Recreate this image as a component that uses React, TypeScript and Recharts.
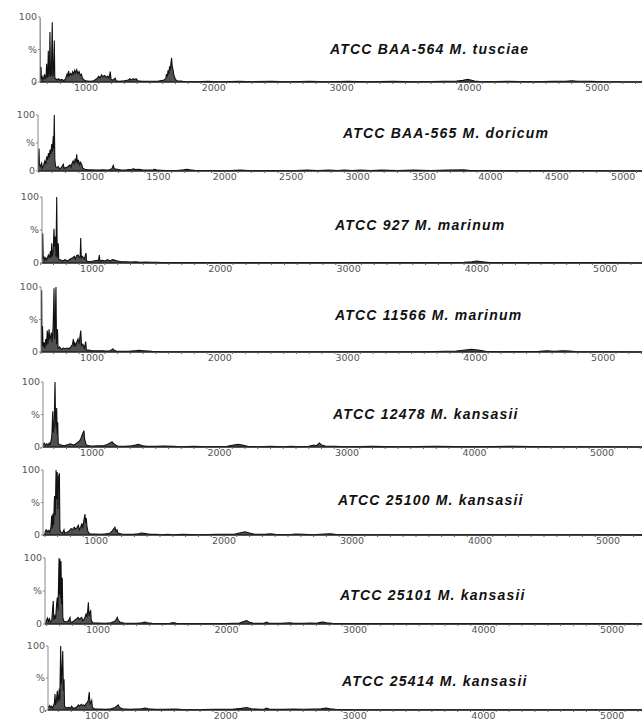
import { AreaChart, Area, XAxis, YAxis } from "recharts";

// m/z , relative intensity (%)
const spectrumBAA564: [number, number][] = [
  [630, 0], [636, 3], [638, 98], [641, 4], [645, 10], [648, 23], [651, 5], [657, 8], [662, 3], [668, 6],
  [676, 12], [681, 4], [688, 10], [692, 28], [696, 6], [701, 14], [705, 48], [709, 8], [714, 20], [718, 77],
  [722, 10], [729, 12], [736, 92], [740, 8], [746, 15], [752, 64], [756, 6], [764, 5], [772, 3], [784, 5],
  [796, 3], [812, 4], [826, 2], [840, 5], [852, 12], [858, 8], [864, 17], [870, 10], [880, 13], [888, 11],
  [896, 16], [904, 12], [912, 18], [920, 14], [928, 19], [936, 13], [946, 16], [955, 10], [964, 12], [972, 6],
  [985, 3], [1000, 2], [1030, 1], [1060, 2], [1085, 5], [1100, 9], [1110, 6], [1122, 11], [1132, 8], [1145, 10],
  [1158, 7], [1170, 9], [1180, 6], [1190, 16], [1196, 4], [1210, 3], [1228, 6], [1236, 2], [1260, 1], [1300, 2],
  [1330, 3], [1345, 5], [1356, 3], [1368, 5], [1380, 4], [1392, 5], [1405, 2], [1440, 1], [1500, 1], [1560, 1],
  [1610, 3], [1625, 6], [1630, 12], [1636, 8], [1642, 18], [1648, 12], [1654, 24], [1660, 18], [1665, 30], [1670, 37],
  [1674, 25], [1680, 20], [1686, 12], [1692, 8], [1700, 4], [1710, 2], [1760, 1], [1850, 0.5], [1950, 1], [2050, 0.5],
  [2200, 1], [2300, 0.5], [2450, 1], [2600, 0.5], [2750, 1], [2900, 0.5], [3050, 1], [3200, 0.5], [3400, 1], [3600, 0.5],
  [3800, 1], [3900, 1.5], [3950, 2.5], [3985, 4], [4010, 3], [4040, 1.5], [4100, 0.5], [4300, 1], [4500, 0.5], [4650, 1],
  [4750, 1], [4800, 2], [4850, 1.2], [4950, 1], [5050, 0.5], [5400, 0],
];

const spectrumBAA565: [number, number][] = [
  [590, 0], [596, 10], [601, 40], [604, 12], [610, 8], [621, 14], [626, 5], [635, 10], [645, 18], [652, 12],
  [659, 26], [666, 20], [672, 32], [678, 24], [684, 38], [690, 30], [697, 48], [702, 35], [708, 62], [712, 40],
  [716, 100], [720, 20], [726, 8], [735, 6], [746, 8], [755, 4], [770, 6], [784, 12], [790, 5], [805, 6],
  [820, 8], [834, 11], [842, 7], [850, 14], [858, 18], [866, 12], [874, 22], [880, 16], [885, 30], [890, 14],
  [898, 20], [905, 10], [912, 16], [922, 12], [930, 5], [947, 3], [970, 2], [1000, 2], [1040, 1.5], [1080, 2],
  [1120, 1.5], [1150, 4], [1160, 10], [1168, 4], [1190, 3], [1220, 1.5], [1260, 2], [1300, 3], [1311, 4], [1330, 2.5],
  [1350, 3], [1380, 2], [1420, 1.5], [1460, 2], [1474, 3], [1490, 1.5], [1550, 1], [1640, 1], [1690, 2], [1713, 3],
  [1740, 2], [1780, 1], [1900, 1], [2000, 0.5], [2120, 1.5], [2200, 0.5], [2350, 1], [2500, 0.5], [2620, 1.5], [2700, 1],
  [2780, 1.8], [2850, 1], [2900, 1.8], [2960, 1], [3020, 1.8], [3100, 1], [3180, 1.5], [3300, 1], [3420, 1.5], [3550, 1],
  [3680, 1.5], [3800, 2], [3850, 1], [3950, 1], [4100, 0.5], [4300, 1], [4500, 0.5], [4700, 1], [4900, 0.5], [5200, 0],
];

const spectrum927: [number, number][] = [
  [600, 0], [610, 5], [616, 45], [620, 6], [625, 10], [632, 4], [640, 8], [648, 5], [660, 12], [668, 7],
  [676, 18], [681, 8], [686, 30], [690, 10], [698, 20], [704, 52], [708, 25], [714, 40], [719, 10], [725, 100],
  [729, 8], [737, 30], [741, 5], [755, 5], [770, 3], [790, 5], [810, 3], [830, 6], [850, 8], [862, 10],
  [870, 6], [880, 11], [892, 12], [900, 8], [908, 10], [912, 38], [916, 8], [925, 10], [940, 6], [953, 15],
  [958, 3], [980, 2], [1010, 3], [1040, 4], [1050, 3], [1057, 12], [1062, 3], [1080, 4], [1100, 3], [1120, 5],
  [1140, 3], [1160, 5], [1180, 4], [1200, 3], [1230, 2], [1270, 2], [1300, 1.5], [1340, 2], [1380, 1], [1420, 1.5],
  [1460, 1], [1500, 1], [1550, 0.5], [1700, 0.5], [2000, 0.5], [2300, 0.5], [2600, 0.5], [3000, 0.5], [3400, 0.5], [3800, 0.5],
  [3900, 1], [3960, 2], [4000, 3], [4040, 2], [4100, 0.5], [4500, 0.5], [5000, 0.5], [5350, 0],
];

const spectrum11566: [number, number][] = [
  [600, 0], [603, 20], [606, 95], [609, 10], [613, 40], [617, 8], [624, 15], [630, 6], [638, 20], [644, 10],
  [650, 33], [656, 12], [664, 35], [670, 20], [676, 22], [682, 30], [688, 15], [696, 40], [703, 98], [707, 20],
  [712, 40], [718, 100], [722, 12], [730, 35], [734, 6], [745, 8], [760, 4], [775, 6], [790, 5], [805, 6],
  [820, 5], [835, 8], [848, 12], [854, 20], [860, 8], [866, 14], [874, 10], [882, 16], [890, 20], [898, 12],
  [905, 22], [912, 33], [918, 10], [928, 12], [940, 6], [951, 16], [956, 3], [975, 3], [1000, 2], [1040, 2],
  [1080, 2], [1110, 1.5], [1140, 2], [1158, 4], [1164, 5], [1170, 3], [1190, 1.5], [1230, 1], [1300, 1.5], [1340, 2],
  [1370, 2.5], [1400, 2], [1440, 1.5], [1470, 1], [1550, 0.5], [1700, 0.5], [2000, 0.5], [2400, 0.5], [2800, 0.5], [3200, 0.5],
  [3600, 0.5], [3850, 1.5], [3920, 3], [3970, 4], [4020, 3], [4080, 1], [4200, 0.5], [4500, 1], [4560, 2], [4620, 1],
  [4680, 2], [4740, 1.5], [4800, 0.5], [5100, 0.5], [5350, 0],
];

const spectrum12478: [number, number][] = [
  [610, 0], [616, 4], [625, 6], [634, 3], [645, 5], [656, 3], [665, 6], [672, 4], [680, 10], [686, 20],
  [692, 55], [696, 22], [702, 30], [706, 60], [710, 100], [714, 40], [718, 30], [723, 60], [727, 20], [731, 38],
  [735, 5], [745, 4], [760, 3], [780, 2], [800, 3], [830, 5], [845, 4], [860, 3], [880, 6], [895, 8],
  [905, 10], [914, 14], [922, 18], [930, 22], [937, 25], [942, 12], [948, 8], [955, 3], [980, 2], [1010, 1.5],
  [1050, 2], [1090, 2], [1120, 4], [1140, 6], [1157, 8], [1170, 5], [1185, 3], [1200, 1.5], [1260, 1], [1310, 2],
  [1340, 3], [1361, 4], [1380, 3], [1400, 2], [1430, 1], [1500, 1], [1560, 1.5], [1640, 1], [1700, 0.5], [1800, 1],
  [1900, 0.5], [2060, 1], [2110, 3], [2145, 4], [2180, 3], [2220, 1], [2300, 0.5], [2400, 1], [2500, 0.5], [2560, 1],
  [2640, 0.5], [2700, 1], [2740, 3], [2760, 2], [2784, 6], [2800, 3], [2830, 1.5], [2900, 1], [3000, 0.5], [3200, 1],
  [3400, 0.5], [3700, 1], [4000, 0.5], [4300, 1], [4600, 0.5], [5000, 0.5], [5350, 0],
];

const spectrum25100: [number, number][] = [
  [600, 0], [604, 6], [612, 8], [620, 5], [630, 7], [640, 4], [648, 12], [654, 30], [658, 10], [664, 33],
  [668, 15], [676, 60], [682, 30], [688, 100], [692, 55], [697, 97], [702, 40], [708, 90], [714, 95], [718, 8],
  [725, 4], [738, 3], [750, 8], [755, 3], [770, 4], [790, 6], [805, 10], [815, 8], [830, 12], [840, 9],
  [850, 11], [862, 15], [870, 8], [880, 12], [890, 18], [896, 10], [905, 22], [914, 32], [919, 18], [924, 26],
  [930, 12], [938, 5], [950, 2], [990, 1.5], [1040, 1], [1080, 2], [1110, 3], [1125, 6], [1140, 10], [1148, 12],
  [1156, 6], [1164, 8], [1172, 3], [1200, 1.5], [1250, 1], [1300, 1.5], [1330, 2], [1355, 3], [1375, 2.5], [1395, 2],
  [1420, 1], [1470, 1], [1520, 0.5], [1560, 1], [1600, 0.5], [1680, 1], [1800, 0.5], [1950, 1], [2080, 1], [2120, 3],
  [2164, 5], [2200, 3], [2240, 1], [2320, 1], [2360, 2], [2400, 1], [2500, 0.5], [2560, 1.5], [2620, 1], [2700, 0.5],
  [2780, 1.5], [2830, 2], [2870, 1], [3000, 0.5], [3300, 0.5], [3700, 0.5], [4100, 0.5], [4500, 0.5], [5000, 0.5], [5350, 0],
];

const spectrum25101: [number, number][] = [
  [590, 0], [600, 6], [607, 9], [615, 4], [622, 8], [630, 3], [640, 5], [652, 35], [656, 6], [664, 12],
  [670, 8], [678, 30], [683, 40], [688, 20], [693, 60], [697, 100], [700, 45], [704, 98], [708, 40], [712, 95],
  [716, 30], [722, 70], [726, 10], [735, 4], [755, 3], [770, 5], [782, 10], [786, 3], [800, 3], [815, 5],
  [834, 8], [845, 10], [855, 7], [865, 9], [873, 10], [880, 5], [895, 8], [907, 15], [914, 10], [920, 20],
  [925, 33], [930, 12], [937, 18], [943, 20], [948, 5], [960, 2], [1000, 1.5], [1060, 1], [1100, 2], [1130, 4],
  [1142, 7], [1150, 10], [1158, 6], [1170, 3], [1200, 1.5], [1250, 1], [1300, 1], [1340, 2], [1366, 3], [1385, 2],
  [1420, 1], [1500, 0.5], [1560, 1], [1586, 2], [1610, 1], [1700, 0.5], [1850, 0.5], [2000, 0.5], [2100, 1.5], [2140, 4],
  [2157, 5], [2175, 3], [2210, 1], [2290, 1], [2313, 3], [2330, 1], [2420, 1], [2494, 2], [2520, 1], [2600, 1],
  [2650, 1.5], [2700, 1], [2730, 2.5], [2753, 3], [2780, 2], [2820, 1], [2900, 0.5], [3200, 0.5], [3600, 0.5], [4000, 0.5],
  [4500, 0.5], [5000, 0.5], [5350, 0],
];

const spectrum25414: [number, number][] = [
  [620, 0], [624, 5], [632, 7], [640, 4], [648, 6], [656, 3], [664, 8], [670, 12], [674, 25], [678, 8],
  [685, 15], [692, 30], [696, 12], [702, 20], [707, 33], [711, 15], [718, 100], [722, 40], [728, 60], [734, 92],
  [739, 30], [744, 48], [748, 6], [760, 3], [780, 4], [795, 3], [804, 6], [810, 3], [830, 3], [845, 5],
  [855, 8], [866, 6], [878, 9], [888, 7], [898, 8], [907, 6], [915, 10], [925, 12], [932, 15], [940, 28],
  [945, 10], [952, 12], [959, 15], [964, 4], [980, 2], [1020, 1.5], [1070, 1], [1110, 2], [1140, 4], [1152, 6],
  [1165, 8], [1175, 4], [1200, 2], [1250, 1], [1300, 1.5], [1345, 2], [1373, 3], [1400, 2], [1450, 1], [1520, 1],
  [1600, 1.5], [1650, 1], [1750, 0.5], [1900, 1], [2050, 1], [2120, 2.5], [2162, 4], [2200, 2], [2260, 1], [2300, 1.5],
  [2318, 3], [2340, 1], [2450, 1], [2520, 1.5], [2600, 1], [2680, 1.5], [2740, 2], [2780, 3], [2810, 2], [2850, 1],
  [3000, 0.5], [3400, 0.5], [3800, 0.5], [4200, 0.5], [4600, 0.5], [5000, 0.5], [5350, 0],
];

const strainTitles = [
  "ATCC BAA-564 M. tusciae",
  "ATCC BAA-565 M. doricum",
  "ATCC 927 M. marinum",
  "ATCC 11566 M. marinum",
  "ATCC 12478 M. kansasii",
  "ATCC 25100 M. kansasii",
  "ATCC 25101 M. kansasii",
  "ATCC 25414 M. kansasii",
];

const thousandTicks = [1000, 2000, 3000, 4000, 5000];
const halfThousandTicks = [1000, 1500, 2000, 2500, 3000, 3500, 4000, 4500, 5000];

const spectra = [
  spectrumBAA564, spectrumBAA565, spectrum927, spectrum11566,
  spectrum12478, spectrum25100, spectrum25101, spectrum25414,
];

// where each scanned panel sits on the page (the scan is a little skewed)
const panels = [
  { y100: 17, y0: 82, axisX: 40, x1000: 86, scale: 0.1278, labels: thousandTicks, titleX: 330, titleY: 49 },
  { y100: 115, y0: 171, axisX: 38, x1000: 92, scale: 0.1328, labels: halfThousandTicks, titleX: 343, titleY: 133 },
  { y100: 197, y0: 263, axisX: 42, x1000: 92, scale: 0.1283, labels: thousandTicks, titleX: 335, titleY: 225 },
  { y100: 287, y0: 352, axisX: 41, x1000: 92, scale: 0.1278, labels: thousandTicks, titleX: 335, titleY: 315 },
  { y100: 382, y0: 447, axisX: 43, x1000: 92, scale: 0.1275, labels: thousandTicks, titleX: 333, titleY: 414 },
  { y100: 470, y0: 535, axisX: 43, x1000: 96, scale: 0.128, labels: thousandTicks, titleX: 338, titleY: 500 },
  { y100: 558, y0: 624, axisX: 45, x1000: 98, scale: 0.1285, labels: thousandTicks, titleX: 340, titleY: 595 },
  { y100: 646, y0: 710, axisX: 48, x1000: 97, scale: 0.1288, labels: thousandTicks, titleX: 342, titleY: 681 },
];

const CHART_W = 700;
const TOP_PAD = 6;
const AXIS_H = 16;
const minorTicks = Array.from({ length: 48 }, (_, i) => 600 + i * 100);

function Spectrum({ idx }: { idx: number }) {
  const p = panels[idx];
  const data = spectra[idx].map(([mz, v]) => ({ mz, v }));
  const dmin = 1000 - (p.x1000 - p.axisX) / p.scale;
  const dmax = dmin + (CHART_W - p.axisX) / p.scale;
  const ticks = [...new Set([...minorTicks, ...p.labels])].sort((a, b) => a - b);
  const plotH = p.y0 - p.y100;

  return (
    <div style={{ position: "absolute", left: 0, top: p.y100 - TOP_PAD }}>
      <AreaChart
        width={CHART_W}
        height={TOP_PAD + plotH + AXIS_H}
        data={data}
        margin={{ top: TOP_PAD, right: 0, bottom: 0, left: 0 }}
      >
        <XAxis
          dataKey="mz"
          type="number"
          domain={[dmin, dmax]}
          allowDataOverflow
          ticks={ticks}
          interval={0}
          tickFormatter={(v: number) => (p.labels.includes(v) ? String(v) : "")}
          height={AXIS_H}
          tickSize={2}
          tickMargin={0}
          axisLine={{ stroke: "#222", strokeWidth: 1.3 }}
          tickLine={{ stroke: "#666" }}
          tick={{ fill: "#555", fontSize: 9.5, fontFamily: "DejaVu Sans" }}
        />
        <YAxis
          type="number"
          domain={[0, 100]}
          ticks={[0, 50, 100]}
          interval={0}
          tickFormatter={(v: number) => (v === 50 ? "%" : String(v))}
          width={p.axisX}
          tickSize={2}
          tickMargin={1}
          axisLine={{ stroke: "#888" }}
          tickLine={{ stroke: "#888" }}
          tick={{ fill: "#555", fontSize: 9.5, fontFamily: "DejaVu Sans" }}
        />
        <Area
          type="linear"
          dataKey="v"
          stroke="#111"
          strokeWidth={1.1}
          fill="#333"
          fillOpacity={0.85}
          dot={false}
          isAnimationActive={false}
        />
      </AreaChart>
      <div
        style={{
          position: "absolute",
          left: p.titleX,
          top: p.titleY - p.y100 + TOP_PAD - 9,
          fontFamily: "Liberation Sans",
          fontWeight: "bold",
          fontStyle: "italic",
          fontSize: 14,
          letterSpacing: 1.2,
          color: "#111",
          whiteSpace: "nowrap",
          lineHeight: "18px",
        }}
      >
        {strainTitles[idx]}
      </div>
    </div>
  );
}

export default function App() {
  return (
    <div
      style={{
        position: "absolute",
        left: 0,
        top: 0,
        width: 642,
        height: 719,
        overflow: "hidden",
        background: "#fff",
      }}
    >
      {panels.map((_, i) => (
        <Spectrum key={i} idx={i} />
      ))}
    </div>
  );
}
